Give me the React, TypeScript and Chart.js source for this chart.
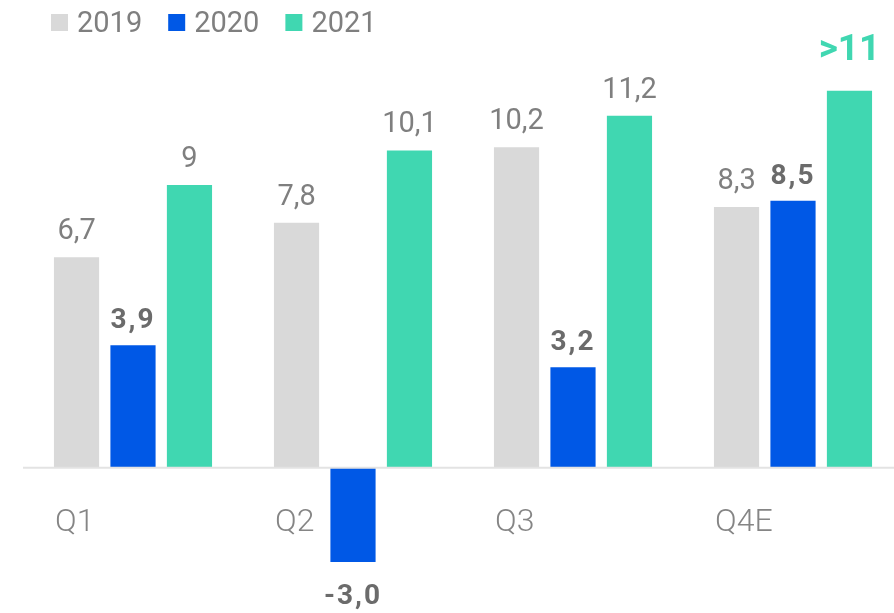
import React, { useEffect, useRef } from "react";
import { Chart, registerables } from "chart.js";

Chart.register(...registerables);

const categories = ["Q1", "Q2", "Q3", "Q4E"];
const seriesNames = ["2019", "2020", "2021"];
const values2019 = [6.7, 7.8, 10.2, 8.3];
const values2020 = [3.9, -3.0, 3.2, 8.5];
const values2021 = [9, 10.1, 11.2, 12];
const labels2019 = ["6,7", "7,8", "10,2", "8,3"];
const labels2020 = ["3,9", "-3,0", "3,2", "8,5"];
const labels2021 = ["9", "10,1", "11,2", ">11"];

const colors = ["#d9d9d9", "#0058e6", "#40d7b1"];
const valueLabels = [labels2019, labels2020, labels2021];

const FONT = "Roboto, 'Noto Sans', sans-serif";

const legendPlugin = {
  id: "customLegend",
  afterDraw(chart: any) {
    const ctx = chart.ctx;
    ctx.save();
    ctx.font = `400 29px ${FONT}`;
    ctx.textBaseline = "alphabetic";
    ctx.textAlign = "left";
    let x = 51;
    chart.data.datasets.forEach((ds: any) => {
      ctx.fillStyle = ds.backgroundColor;
      ctx.fillRect(x, 14, 17, 17);
      ctx.fillStyle = "#7f7f7f";
      ctx.fillText(ds.label, x + 26, 32);
      x += 26 + ctx.measureText(ds.label).width + 26;
    });
    ctx.restore();
  },
};

const zeroLinePlugin = {
  id: "zeroLine",
  afterDatasetsDraw(chart: any) {
    const ctx = chart.ctx;
    const y = chart.scales.y.getPixelForValue(0);
    ctx.save();
    ctx.strokeStyle = "#e3e3e3";
    ctx.lineWidth = 2;
    ctx.beginPath();
    ctx.moveTo(chart.chartArea.left, y);
    ctx.lineTo(chart.width, y);
    ctx.stroke();
    ctx.restore();
  },
};

const categoryLabelPlugin = {
  id: "categoryLabels",
  afterDraw(chart: any) {
    const ctx = chart.ctx;
    const xs = chart.scales.x;
    const y0 = chart.scales.y.getPixelForValue(0);
    ctx.save();
    ctx.font = `300 32px ${FONT}`;
    ctx.fillStyle = "#858585";
    ctx.textAlign = "left";
    ctx.textBaseline = "alphabetic";
    chart.data.labels.forEach((lab: string, i: number) => {
      const cx = xs.getPixelForValue(i);
      ctx.fillText(lab, cx - 78, y0 + 63);
    });
    ctx.restore();
  },
};

const valueLabelPlugin = {
  id: "valueLabels",
  afterDatasetsDraw(chart: any) {
    const ctx = chart.ctx;
    ctx.save();
    ctx.textAlign = "center";
    ctx.textBaseline = "alphabetic";
    chart.data.datasets.forEach((ds: any, di: number) => {
      const meta = chart.getDatasetMeta(di);
      meta.data.forEach((bar: any, j: number) => {
        const text = valueLabels[di][j];
        const v = ds.data[j];
        let gap = 18;
        (ctx as any).letterSpacing = "0px";
        if (text.startsWith(">")) {
          ctx.font = `700 37px ${FONT}`;
          ctx.fillStyle = colors[2];
          gap = 31;
        } else if (di === 1) {
          ctx.font = `700 28px ${FONT}`;
          ctx.fillStyle = "#6b6b6b";
          (ctx as any).letterSpacing = "2px";
          gap = 17;
        } else {
          ctx.font = `400 29px ${FONT}`;
          ctx.fillStyle = "#7f7f7f";
        }
        if (v >= 0) {
          ctx.fillText(text, bar.x, bar.y - gap);
        } else {
          ctx.fillText(text, bar.x, bar.y + 42);
        }
      });
    });
    (ctx as any).letterSpacing = "0px";
    ctx.restore();
  },
};

export default function App() {
  const ref = useRef<HTMLCanvasElement>(null);
  useEffect(() => {
    const chart = new Chart(ref.current as HTMLCanvasElement, {
      type: "bar",
      data: {
        labels: categories,
        datasets: [
          { label: seriesNames[0], data: values2019, backgroundColor: colors[0] },
          { label: seriesNames[1], data: values2020, backgroundColor: colors[1] },
          { label: seriesNames[2], data: values2021, backgroundColor: colors[2] },
        ],
      },
      options: {
        responsive: false,
        animation: false,
        devicePixelRatio: 1,
        layout: { padding: { left: 23, right: 7, top: 75, bottom: 4 } },
        datasets: {
          bar: { categoryPercentage: 0.77, barPercentage: 0.8, borderWidth: 0 },
        },
        scales: {
          x: { display: false },
          y: { display: false, min: -4.5, max: 12.5 },
        },
        plugins: {
          legend: { display: false },
          tooltip: { enabled: false },
        },
      },
      plugins: [zeroLinePlugin, valueLabelPlugin, categoryLabelPlugin, legendPlugin],
    } as any);
    return () => chart.destroy();
  }, []);
  return (
    <div
      style={{
        position: "fixed",
        left: 0,
        top: 0,
        width: 894,
        height: 613,
        overflow: "hidden",
        background: "#ffffff",
      }}
    >
      <canvas ref={ref} width={910} height={613} style={{ display: "block", width: 910, height: 613 }} />
    </div>
  );
}
